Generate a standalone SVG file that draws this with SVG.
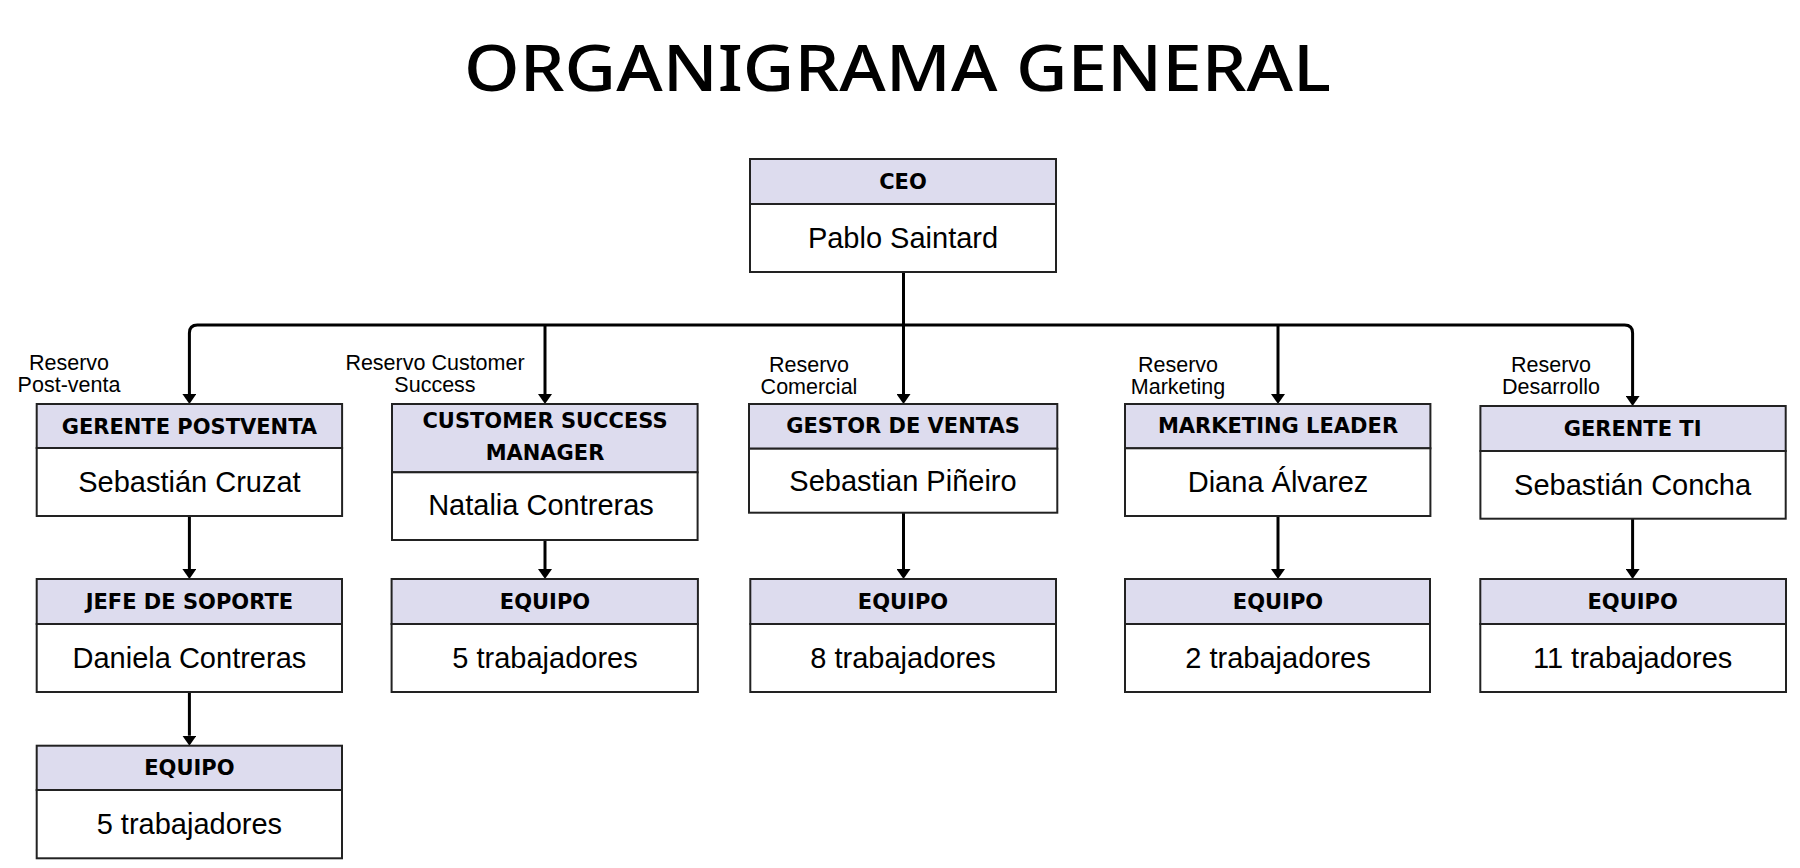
<svg xmlns="http://www.w3.org/2000/svg" width="1800" height="868" viewBox="0 0 1800 868">
<defs>
<style>
.hd{fill:#dddcee;stroke:#222;stroke-width:2}
.bd{fill:#fff;stroke:#222;stroke-width:2}
.ht{font-family:"DejaVu Sans",sans-serif;font-weight:bold;font-size:21px;fill:#000;text-anchor:middle;dominant-baseline:central}
.nt{font-family:"Liberation Sans",Arial,sans-serif;font-size:29px;fill:#000;text-anchor:middle;dominant-baseline:central}
.lb{font-family:"Liberation Sans",Arial,sans-serif;font-size:21.5px;fill:#000;text-anchor:middle}
.cn{fill:none;stroke:#000;stroke-width:3}
</style>
<marker id="ah" viewBox="0 0 10 14" refX="0" refY="7" markerWidth="10" markerHeight="14" markerUnits="userSpaceOnUse" orient="auto">
<path d="M0,0 L10,7 L0,14 z" fill="#000"/>
</marker>
</defs>
<rect width="1800" height="868" fill="#fff"/>
<text x="897.5" y="91" font-family="'Noto Sans',sans-serif" font-weight="500" font-size="64" text-anchor="middle" textLength="867" lengthAdjust="spacingAndGlyphs">ORGANIGRAMA GENERAL</text>

<g id="connectors">
<path class="cn" d="M903.5,272 V325"/>
<path class="cn" d="M903.5,325 H197.4 Q189.4,325 189.4,333 V394" marker-end="url(#ah)"/>
<path class="cn" d="M903.5,325 H1624.6 Q1632.6,325 1632.6,333 V396" marker-end="url(#ah)"/>
<path class="cn" d="M545,325 V394" marker-end="url(#ah)"/>
<path class="cn" d="M903.5,325 V394" marker-end="url(#ah)"/>
<path class="cn" d="M1278,325 V394" marker-end="url(#ah)"/>
<path class="cn" d="M189.4,516 V569" marker-end="url(#ah)"/>
<path class="cn" d="M189.4,692 V735.7" marker-end="url(#ah)"/>
<path class="cn" d="M545,540 V569" marker-end="url(#ah)"/>
<path class="cn" d="M903.5,512.7 V569" marker-end="url(#ah)"/>
<path class="cn" d="M1278,516 V569" marker-end="url(#ah)"/>
<path class="cn" d="M1632.6,518.7 V569" marker-end="url(#ah)"/>
</g>

<g id="labels">
<text class="lb" x="69" y="370">Reservo</text>
<text class="lb" x="69" y="392">Post-venta</text>
<text class="lb" x="435" y="370">Reservo Customer</text>
<text class="lb" x="435" y="392">Success</text>
<text class="lb" x="809" y="372">Reservo</text>
<text class="lb" x="809" y="394">Comercial</text>
<text class="lb" x="1178" y="372">Reservo</text>
<text class="lb" x="1178" y="394">Marketing</text>
<text class="lb" x="1551" y="372">Reservo</text>
<text class="lb" x="1551" y="394">Desarrollo</text>
</g>

<g id="ceo">
<rect class="hd" x="750" y="159" width="306" height="45"/>
<rect class="bd" x="750" y="204" width="306" height="68"/>
<text class="ht" x="903" y="182">CEO</text>
<text class="nt" x="903" y="238">Pablo Saintard</text>
</g>

<g id="gerente-postventa">
<rect class="hd" x="36.7" y="404" width="305.4" height="44"/>
<rect class="bd" x="36.7" y="448" width="305.4" height="68"/>
<text class="ht" x="189.4" y="427">GERENTE POSTVENTA</text>
<text class="nt" x="189.4" y="482">Sebastián Cruzat</text>
</g>

<g id="customer-success">
<rect class="hd" x="392" y="404" width="305.6" height="68.3"/>
<rect class="bd" x="392" y="472.3" width="305.6" height="67.7"/>
<text class="ht" x="545" y="421">CUSTOMER SUCCESS</text>
<text class="ht" x="545" y="453">MANAGER</text>
<text class="nt" x="541" y="505">Natalia Contreras</text>
</g>

<g id="gestor-ventas">
<rect class="hd" x="749" y="404" width="308.3" height="44.7"/>
<rect class="bd" x="749" y="448.7" width="308.3" height="64"/>
<text class="ht" x="903" y="426">GESTOR DE VENTAS</text>
<text class="nt" x="903" y="481">Sebastian Piñeiro</text>
</g>

<g id="marketing-leader">
<rect class="hd" x="1125" y="404" width="305.4" height="44.3"/>
<rect class="bd" x="1125" y="448.3" width="305.4" height="67.7"/>
<text class="ht" x="1278" y="426">MARKETING LEADER</text>
<text class="nt" x="1278" y="482">Diana Álvarez</text>
</g>

<g id="gerente-ti">
<rect class="hd" x="1480.4" y="406" width="305.3" height="45"/>
<rect class="bd" x="1480.4" y="451" width="305.3" height="67.7"/>
<text class="ht" x="1632.6" y="429">GERENTE TI</text>
<text class="nt" x="1632.6" y="485">Sebastián Concha</text>
</g>

<g id="jefe-soporte">
<rect class="hd" x="36.7" y="579" width="305.3" height="45"/>
<rect class="bd" x="36.7" y="624" width="305.3" height="68"/>
<text class="ht" x="189.4" y="602">JEFE DE SOPORTE</text>
<text class="nt" x="189.4" y="658">Daniela Contreras</text>
</g>

<g id="equipo-postventa">
<rect class="hd" x="36.7" y="745.7" width="305.3" height="44.3"/>
<rect class="bd" x="36.7" y="790" width="305.3" height="68.3"/>
<text class="ht" x="189.4" y="768">EQUIPO</text>
<text class="nt" x="189.4" y="824">5 trabajadores</text>
</g>

<g id="equipo-cs">
<rect class="hd" x="391.6" y="579" width="306.3" height="45"/>
<rect class="bd" x="391.6" y="624" width="306.3" height="68"/>
<text class="ht" x="545" y="602">EQUIPO</text>
<text class="nt" x="545" y="658">5 trabajadores</text>
</g>

<g id="equipo-ventas">
<rect class="hd" x="750.3" y="579" width="305.7" height="45"/>
<rect class="bd" x="750.3" y="624" width="305.7" height="68"/>
<text class="ht" x="903" y="602">EQUIPO</text>
<text class="nt" x="903" y="658">8 trabajadores</text>
</g>

<g id="equipo-marketing">
<rect class="hd" x="1125" y="579" width="305" height="45"/>
<rect class="bd" x="1125" y="624" width="305" height="68"/>
<text class="ht" x="1278" y="602">EQUIPO</text>
<text class="nt" x="1278" y="658">2 trabajadores</text>
</g>

<g id="equipo-ti">
<rect class="hd" x="1480.3" y="579" width="305.7" height="45"/>
<rect class="bd" x="1480.3" y="624" width="305.7" height="68"/>
<text class="ht" x="1632.6" y="602">EQUIPO</text>
<text class="nt" x="1632.6" y="658">11 trabajadores</text>
</g>
</svg>
